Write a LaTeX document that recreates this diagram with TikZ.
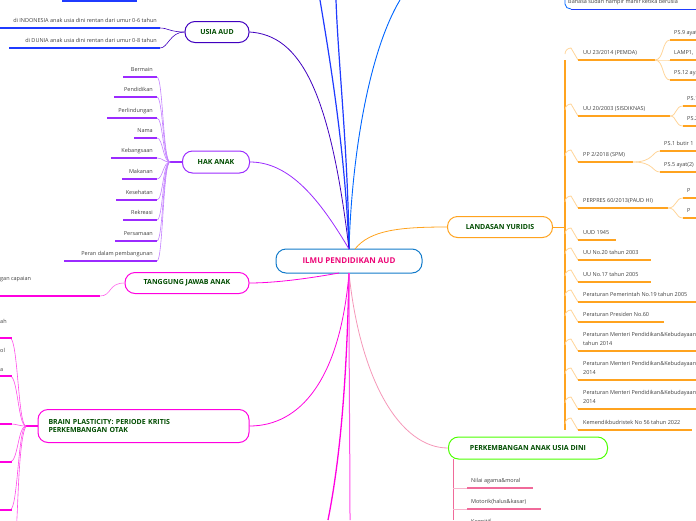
\documentclass[tikz,border=0pt]{standalone}
\usepackage{fontspec}
\setmainfont{Open Sans}
\begin{document}
\begin{tikzpicture}[x=1pt,y=-1pt,
 hdr/.style={draw=#1,line width=1pt,rounded corners=10pt,font=\fontsize{7}{8}\selectfont\bfseries,text=green!30!black,inner sep=0pt},
 itm/.style={font=\fontsize{5.5}{6.5}\selectfont,text=black!75,anchor=base west,inner sep=0pt},
 itr/.style={font=\fontsize{5.5}{6.5}\selectfont,text=black!75,anchor=base east,inner sep=0pt},
 ul/.style={draw=#1,line width=1.3pt},
 br/.style={draw=#1,line width=0.6pt}]
\useasboundingbox (0,0) rectangle (696,520);
\definecolor{org}{HTML}{FFA31F}\definecolor{lorg}{HTML}{FFD59A}
\definecolor{pk}{HTML}{FF00E0}\definecolor{pur}{HTML}{9B2BFF}\definecolor{blu}{HTML}{1F3BFF}
\definecolor{rose}{HTML}{F06A9A}
% center
\node[hdr=cyan!60!blue,minimum width=146pt,minimum height=24pt,text=magenta!80!red,font=\fontsize{8}{9}\selectfont\bfseries] (c) at (349,261) {ILMU PENDIDIKAN AUD};
\coordinate (ct) at (349,249); \coordinate (cb) at (349,273);
% top blue lines
\coordinate (t1) at (320,0);\coordinate (t2) at (336,0);\coordinate (t3) at (400,0);
\draw[blu,line width=1.2pt] (ct) .. controls (345,150) and (330,60) .. (t1);
\draw[blu,line width=1.2pt] (ct) .. controls (348,150) and (338,60) .. (t2);
\draw[blue!60!cyan,line width=0.9pt] (ct) .. controls (352,150) and (370,50) .. (t3);
\draw[blue!60!cyan,line width=0.8pt] (565,-8) -- (565,4) to[out=-90,in=180] (571,9);
\draw[blu,line width=1pt] (571,9) -- (696,9);
\node[itm] (bh) at (568,3) {Bahasa sudah hampir mahir ketika berusia};
% LANDASAN
\node[hdr=org,minimum width=105pt,minimum height=21pt] (ly) at (500,227) {LANDASAN YURIDIS};
\draw[org,line width=0.8pt] (ct) ++(6,0) .. controls (370,230) and (400,227) .. (ly.west);
\draw[org,line width=0.8pt] (ly.east) -- (565,227);
\draw[org,line width=1.2pt] (565,60) -- (565,430);
\foreach \y/\l/\t in {60/655/{UU 23/2014 (PEMDA)},116/670/{UU 20/2003 (SISDIKNAS)},162/633/{PP 2/2018 (SPM)},208/668/{PERPRES 60/2013(PAUD HI)},240/616/{UUD 1945},260/651/{UU No.20 tahun 2003},282/651/{UU No.17 tahun 2005},302/696/{Peraturan Pemerintah No.19 tahun 2005},322/664/{Peraturan Presiden No.60},430/692/{Kemendikbudristek No 56 tahun 2022}}{
 \draw[lorg,line width=0.8pt] (565,\y-6) arc[start angle=180,end angle=270,radius=6] -- (578,\y);
 \draw[ul=org] (578,\y) -- (\l,\y);
 \node[itm] at (583,\y-6) {\t};}
\foreach \y/\a/\b in {351/{Peraturan Menteri Pendidikan\&Kebudayaan}/{tahun 2014},380/{Peraturan Menteri Pendidikan\&Kebudayaan}/2014,409/{Peraturan Menteri Pendidikan\&Kebudayaan}/2014}{
 \draw[lorg,line width=0.8pt] (565,\y-6) arc[start angle=180,end angle=270,radius=6] -- (578,\y);
 \draw[ul=org] (578,\y) -- (696,\y);
 \node[itm] at (583,\y-15) {\a}; \node[itm] at (583,\y-6) {\b};}
% level 3 subs
\foreach \px/\py/\x/\ys in {655/60/670/{40/{PS.9 ayat},60/{LAMP1,},80/{PS.12 ayat}},670/116/683/{106/{PS.1},126/{PS.2}},633/162/660/{151/{PS.1 butir 1},172/{PS.5 ayat(2)}},668/208/683/{198/P,218/P}}{
 \foreach \yy/\tt in \ys {
  \draw[lorg,line width=0.8pt] (\px,\py) .. controls (\x-6,\py) and (\x-8,\yy) .. (\x,\yy);
  \draw[ul=org] (\x,\yy) -- (696,\yy);
  \node[itm] at (\x+4,\yy-6) {\tt};}}
% PERKEMBANGAN
\node[hdr=green!70!yellow,minimum width=159pt,minimum height=22pt] (pa) at (528,448) {PERKEMBANGAN ANAK USIA DINI};
\draw[rose!70,line width=0.8pt] (cb) .. controls (360,380) and (400,448) .. (pa.west);
\draw[rose,line width=1pt] (453,459) -- (453,520);
\foreach \y/\l/\t in {488/533/{Nilai agama\&moral},509/541/{Motorik(halus\&kasar)},529/530/{Kognitif}}{
 \draw[rose!50,line width=0.6pt] (453,\y) -- (467,\y);
 \draw[ul=rose] (467,\y) -- (\l,\y);
 \node[itm] at (471,\y-6) {\t};}
% USIA AUD
\node[hdr=blue!50!violet,minimum width=64pt,minimum height=21pt] (ua) at (217,32) {USIA AUD};
\draw[blue!50!violet,line width=0.8pt] (ct) .. controls (330,90) and (300,35) .. (ua.east);
\draw[ul=blu] (62,1) -- (137,1);
\foreach \y/\l/\t in {28/0/{di INDONESIA anak usia dini rentan dari umur 0-6 tahun},48/9/{di DUNIA anak usia dini rentan dari umur 0-8 tahun}}{
 \draw[ul=blu] (\l,\y) -- (160,\y);
 \draw[br=blue!50!violet] (160,\y) .. controls (168,\y) and (170,32) .. (ua.west);
 \node[itr] at (157,\y-6) {\t};}
% HAK ANAK
\node[hdr=pur,minimum width=67pt,minimum height=22pt] (ha) at (216,162) {HAK ANAK};
\draw[pur,line width=0.8pt] (ct) .. controls (320,200) and (290,162) .. (ha.east);
\draw[pur,line width=1.2pt] (ha.west) -- (170,162);
\foreach \y/\l/\t in {77/123/Bermain,97/114/Pendidikan,118/107/Perlindungan,138/134/Nama,158/111/Kebangsaan,179/122/Makanan,200/116/Kesehatan,220/123/Rekreasi,241/115/Persamaan,261/64/{Peran dalam pembangunan}}{
 \draw[ul=pur] (\l,\y) -- (157,\y);
 \draw[br=pur!60] (157,\y) .. controls (163,\y) and (163,162) .. (170,162);
 \node[itr] at (153,\y-6) {\t};}
% TANGGUNG JAWAB
\node[hdr=pk,minimum width=124pt,minimum height=21pt] (tj) at (187,283) {TANGGUNG JAWAB ANAK};
\draw[pk,line width=0.8pt] (ct) ++(-10,24) .. controls (300,280) and (270,283) .. (tj.east);
\draw[ul=pk] (0,296) -- (100,296);
\draw[br=pk!60] (100,296) .. controls (112,296) and (108,283) .. (tj.west);
\node[itm] at (0,280) {gan capaian};
% BRAIN
\node[hdr=pk,minimum width=211pt,minimum height=33pt,align=left,text width=190pt] (bp) at (143.5,426) {BRAIN PLASTICITY: PERIODE KRITIS\\PERKEMBANGAN OTAK};
\draw[pk,line width=0.8pt] (cb) .. controls (340,380) and (300,426) .. (bp.east);
\draw[pk,line width=1.2pt] (bp.west) -- (26,426);
\foreach \y in {338,376,424,462,510}{
 \draw[br=pk!70] (26,426) .. controls (18,426) and (18,\y) .. (10,\y) -- (0,\y);
 \draw[ul=pk] (0,\y) -- (12,\y);}
\draw[br=pk!70] (26,426) .. controls (18,440) and (18,520) .. (16,530);
\node[itm] at (0,323) {ah};\node[itm] at (0,352) {ol};\node[itm] at (0,371) {a};
% bottom pink lines
\coordinate (b1) at (328,520);\coordinate (b2) at (350,520);
\draw[pk,line width=1.3pt] (cb) .. controls (347,380) and (340,460) .. (b1);
\draw[pk!70,line width=1pt] (cb) .. controls (349,380) and (350,460) .. (b2);
\end{tikzpicture}
\end{document}
